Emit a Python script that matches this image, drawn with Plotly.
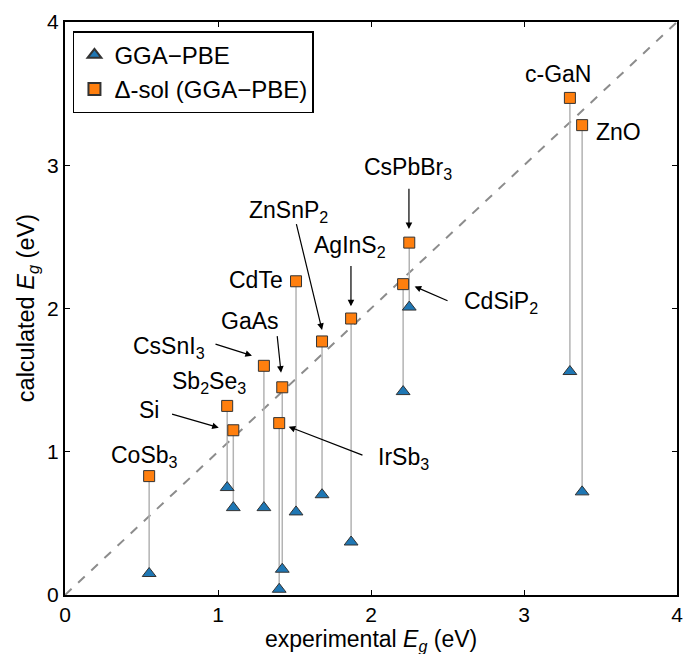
import plotly.graph_objects as go

materials = ["CoSb3", "Si", "Sb2Se3", "CsSnI3", "IrSb3", "GaAs", "CdTe",
             "ZnSnP2", "AgInS2", "CdSiP2", "CsPbBr3", "c-GaN", "ZnO"]
exp_gap = [0.55, 1.10, 1.06, 1.30, 1.40, 1.42, 1.51, 1.68, 1.87, 2.21, 2.25, 3.30, 3.38]
pbe_gap = [0.15, 0.61, 0.75, 0.61, 0.04, 0.18, 0.58, 0.70, 0.37, 1.42, 2.01, 1.56, 0.72]
dsol_gap = [0.83, 1.15, 1.32, 1.60, 1.20, 1.45, 2.19, 1.77, 1.93, 2.17, 2.46, 3.47, 3.28]

x_title = "experimental <i>E</i><sub><i>g</i></sub> (eV)"
y_title = "calculated <i>E</i><sub><i>g</i></sub> (eV)"

# label text, text position (x, y), arrow tail (x, y) or None, arrow head (x, y)
labels = [
    ("CoSb<sub>3</sub>", 0.52, 0.97, None, None),
    ("Si", 0.55, 1.29, (0.69, 1.266), (1.005, 1.168)),
    ("Sb<sub>2</sub>Se<sub>3</sub>", 0.94, 1.48, None, None),
    ("CsSnI<sub>3</sub>", 0.68, 1.73, (0.974, 1.755), (1.222, 1.671)),
    ("GaAs", 1.21, 1.91, (1.386, 1.818), (1.412, 1.552)),
    ("CdTe", 1.25, 2.20, None, None),
    ("ZnSnP<sub>2</sub>", 1.46, 2.68, (1.51, 2.60), (1.68, 1.85)),
    ("AgInS<sub>2</sub>", 1.86, 2.43, (1.869, 2.308), (1.869, 2.015)),
    ("CsPbBr<sub>3</sub>", 2.24, 2.98, (2.248, 2.846), (2.248, 2.555)),
    ("CdSiP<sub>2</sub>", 2.85, 2.04, (2.51, 2.049), (2.285, 2.154)),
    ("IrSb<sub>3</sub>", 2.21, 0.95, (1.954, 0.972), (1.462, 1.175)),
    ("c-GaN", 3.22, 3.64, None, None),
    ("ZnO", 3.62, 3.23, None, None),
]

FONT = "Liberation Sans, Arial, sans-serif"

fig = go.Figure()

# diagonal y = x
fig.add_trace(go.Scatter(x=[0, 4], y=[0, 4], mode="lines",
                         line=dict(color="#8c8c8c", width=2, dash="dash"),
                         showlegend=False, hoverinfo="skip"))

# connector lines
lx, ly = [], []
for e, p, d in zip(exp_gap, pbe_gap, dsol_gap):
    lx += [e, e, None]
    ly += [p, d, None]
fig.add_trace(go.Scatter(x=lx, y=ly, mode="lines",
                         line=dict(color="#b3b3b3", width=1.5),
                         showlegend=False, hoverinfo="skip"))

fig.add_trace(go.Scatter(x=exp_gap, y=pbe_gap, mode="markers", name="GGA\u2212PBE",
                         marker=dict(symbol="triangle-up", size=12, color="#1f77b4",
                                     line=dict(color="#333333", width=1))))
fig.add_trace(go.Scatter(x=exp_gap, y=dsol_gap, mode="markers", name="\u0394-sol (GGA\u2212PBE)",
                         marker=dict(symbol="square", size=11, color="#ff7f0e",
                                     line=dict(color="#333333", width=1))))

annotations = []
for text, tx, ty, tail, head in labels:
    annotations.append(dict(x=tx, y=ty, xref="x", yref="y", text=text, showarrow=False,
                            font=dict(family=FONT, size=23, color="black"),
                            xanchor="center", yanchor="middle"))
    if tail is not None:
        annotations.append(dict(x=head[0], y=head[1], ax=tail[0], ay=tail[1],
                                xref="x", yref="y", axref="x", ayref="y", text="",
                                showarrow=True, arrowhead=2, arrowsize=1.1, arrowwidth=1.2,
                                arrowcolor="black", standoff=0, startstandoff=0))

# axis titles
annotations.append(dict(x=0.5, y=0, xref="paper", yref="paper", yshift=-45, text=x_title,
                        showarrow=False, xanchor="center", yanchor="middle",
                        font=dict(family=FONT, size=23, color="black")))
annotations.append(dict(x=-0.061, y=0.5, xref="paper", yref="paper", text=y_title,
                        showarrow=False, xanchor="center", yanchor="middle", textangle=-90,
                        font=dict(family=FONT, size=23.5, color="black")))

axis_common = dict(range=[0, 4], tickvals=[0, 1, 2, 3, 4], ticks="inside", ticklen=5,
                   tickwidth=1.2, tickcolor="black", showline=True, linecolor="black",
                   linewidth=2, mirror="ticks", showgrid=False, zeroline=False,
                   automargin=False, ticklabeloverflow="allow",
                   tickfont=dict(family=FONT, size=21, color="black"))

fig.update_layout(
    width=683, height=654,
    margin=dict(l=65, r=6, t=22, b=59),
    plot_bgcolor="white", paper_bgcolor="white",
    font=dict(family=FONT, size=22, color="black"),
    xaxis=dict(**axis_common),
    yaxis=dict(**axis_common),
    legend=dict(x=0.013, y=0.984, xanchor="left", yanchor="top",
                bordercolor="black", borderwidth=1.5, bgcolor="white",
                font=dict(family=FONT, size=24), tracegroupgap=0,
                itemsizing="constant"),
    annotations=annotations,
)

fig.write_html("out.html")
